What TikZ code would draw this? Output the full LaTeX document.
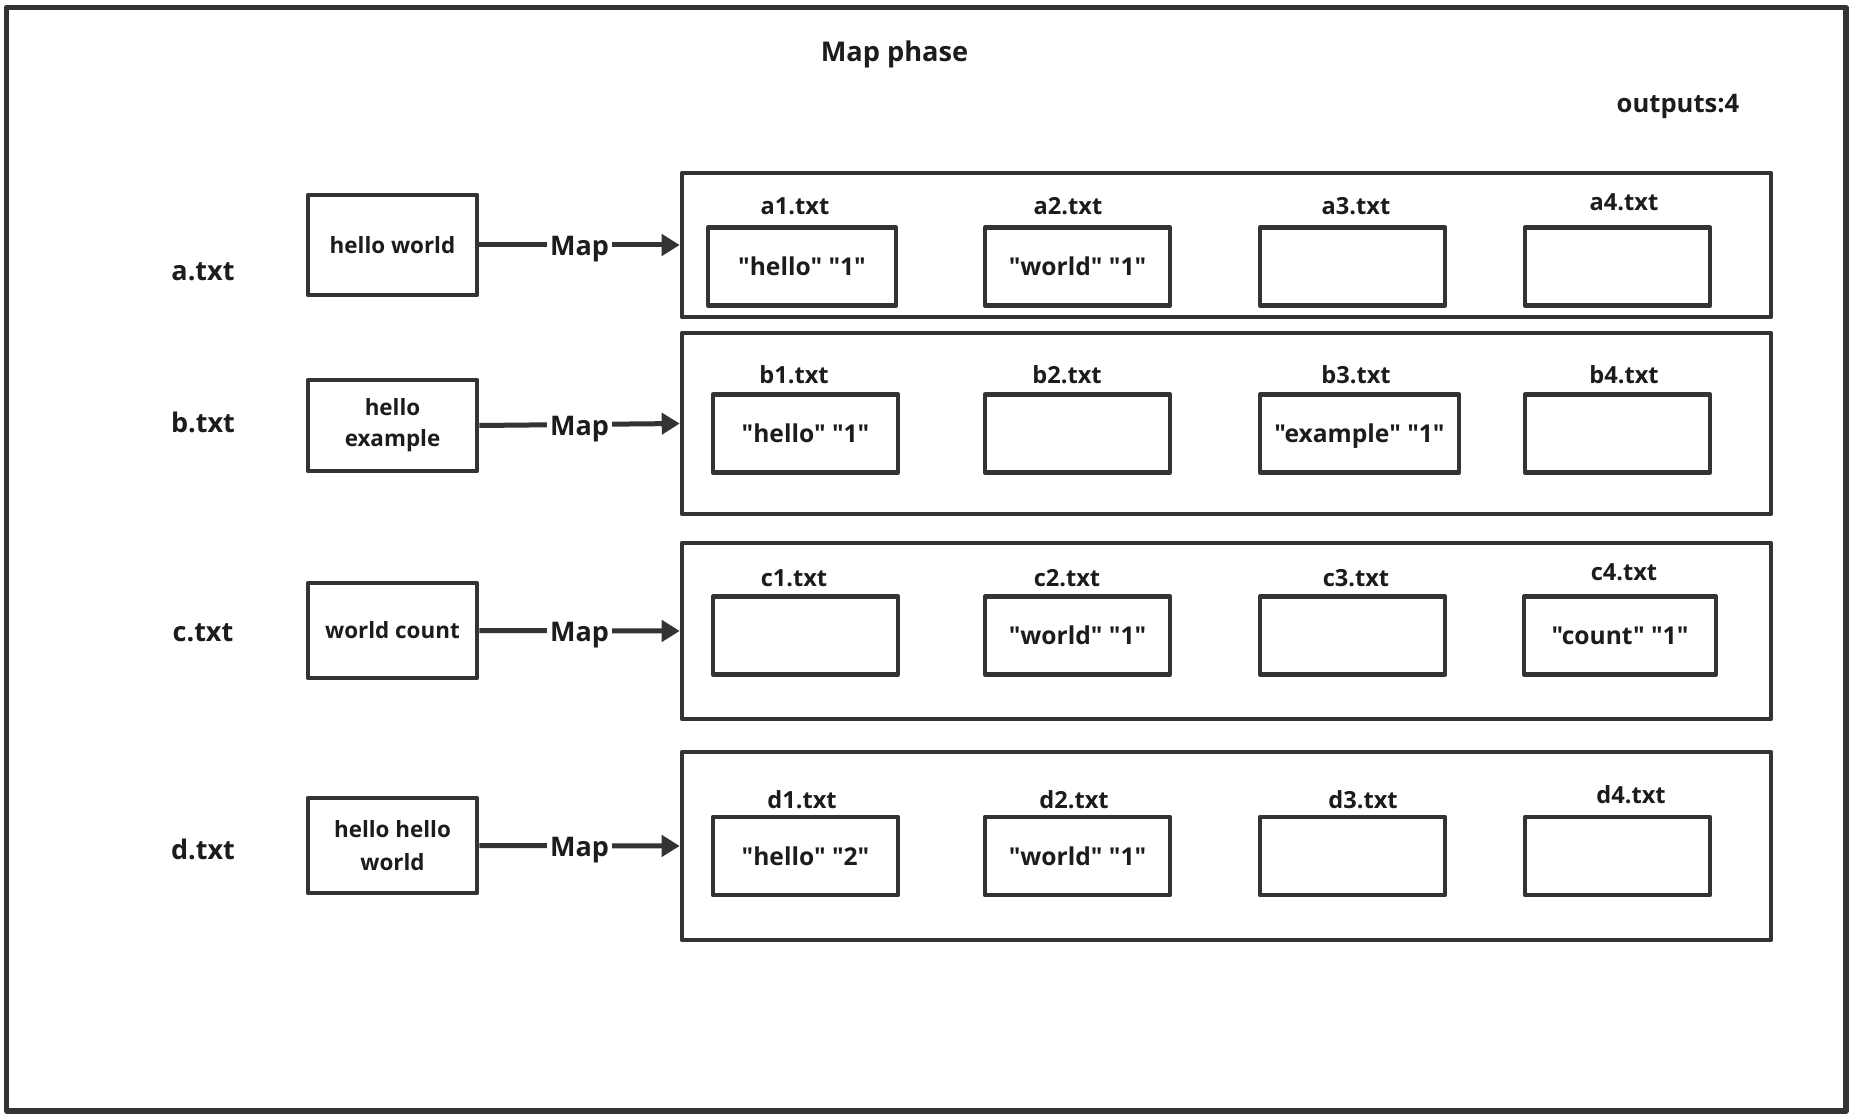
\documentclass[tikz,border=0pt]{standalone}
\usepackage{fontspec}
\setmainfont{Open Sans}
\newfontfamily\osans{Open Sans}
\usetikzlibrary{arrows.meta}
\definecolor{linec}{HTML}{333333}
\definecolor{txtc}{HTML}{1C1C1C}
\tikzset{
  frm/.style={draw=linec, line width=2.3pt, line join=round},
  inbox/.style={frm, minimum width=84.5pt, align=center, inner sep=0pt,
     font=\osans\bfseries\fontsize{11.2pt}{16pt}\selectfont, text=txtc},
  cont/.style={frm, minimum width=544.5pt, inner sep=0pt},
  outbox/.style={frm, minimum width=92.5pt, minimum height=39pt, inner sep=0pt,
     font=\osans\bfseries\fontsize{12.3pt}{15pt}\selectfont, text=txtc, text height=9pt, text depth=0pt},
  flabel/.style={anchor=base, inner sep=0pt, font=\osans\bfseries\fontsize{11.8pt}{13pt}\selectfont, text=txtc},
  rlabel/.style={anchor=base, inner sep=0pt, font=\osans\bfseries\fontsize{13.5pt}{16pt}\selectfont, text=txtc},
  maparrow/.style={draw=linec, line width=2.5pt, -{Triangle[length=9pt,width=10.5pt]}},
  maplbl/.style={anchor=base, yshift=-5.5pt, fill=white, inner sep=1.5pt,
     font=\osans\bfseries\fontsize{13.5pt}{16pt}\selectfont, text=txtc},
}
\begin{document}
\begin{tikzpicture}[x=0.5pt, y=-0.5pt]
\useasboundingbox (0,0) rectangle (1853,1117);
% outer frame
\draw[draw=linec, line width=2.6pt, line join=round] (6.5,7.5) rectangle (1846,1111);
% titles
\node[rlabel, font=\osans\bfseries\fontsize{13.6pt}{16pt}\selectfont] (title) at (894.5,62) {Map phase};
\node[rlabel, font=\osans\bfseries\fontsize{12.8pt}{16pt}\selectfont] (outs) at (1678,113) {outputs:4};
% row labels
\node[rlabel] (la) at (203,281) {a.txt};
\node[rlabel] (lb) at (203,433) {b.txt};
\node[rlabel] (lc) at (203,641) {c.txt};
\node[rlabel] (ld) at (203,859) {d.txt};
% input boxes
\node[inbox, minimum height=50pt] (ina) at (392.5,245) {hello world};
\node[inbox, minimum height=45.5pt, font=\osans\bfseries\fontsize{11.2pt}{15.5pt}\selectfont] (inb) at (392.5,425.5) {hello\\example};
\node[inbox, minimum height=47.5pt] (inc) at (392.5,630.5) {world count};
\node[inbox, minimum height=47.5pt, font=\osans\bfseries\fontsize{11.2pt}{16.5pt}\selectfont] (ind) at (392.5,845.5) {hello hello\\world};
% containers
\node[cont, minimum height=72pt] (ca) at (1226.5,245) {};
\node[cont, minimum height=90.5pt] (cb) at (1226.5,423.5) {};
\node[cont, minimum height=88pt] (cc) at (1226.5,631) {};
\node[cont, minimum height=94pt] (cd) at (1226.5,846) {};
% arrows
\draw[maparrow] (ina.east) -- node[maplbl] {Map} (ca.west);
\draw[maparrow] (inb.east) -- node[maplbl] {Map} (cb.west);
\draw[maparrow] (inc.east) -- node[maplbl] {Map} (cc.west);
\draw[maparrow] (ind.east) -- node[maplbl] {Map} (cd.west);
% row a
\node[outbox, minimum width=94pt] (a1) at (802,266.5) {"hello" "1"};
\node[outbox] (a2) at (1077.5,266.5) {"world" "1"};
\node[outbox] (a3) at (1352.5,266.5) {};
\node[outbox] (a4) at (1617.5,266.5) {};
\node[flabel] (a1l) at (795,215) {a1.txt};
\node[flabel] (a2l) at (1068,215) {a2.txt};
\node[flabel] (a3l) at (1356,215) {a3.txt};
\node[flabel] (a4l) at (1624,211) {a4.txt};
% row b
\node[outbox] (b1) at (805.5,433.5) {"hello" "1"};
\node[outbox] (b2) at (1077.5,433.5) {};
\node[outbox, minimum width=99.5pt] (b3) at (1359.5,433.5) {"example" "1"};
\node[outbox] (b4) at (1617.5,433.5) {};
\node[flabel] (b1l) at (794,384) {b1.txt};
\node[flabel] (b2l) at (1067,384) {b2.txt};
\node[flabel] (b3l) at (1356,384) {b3.txt};
\node[flabel] (b4l) at (1624,384) {b4.txt};
% row c
\node[outbox] (c1) at (805.5,635.5) {};
\node[outbox] (c2) at (1077.5,635.5) {"world" "1"};
\node[outbox] (c3) at (1352.5,635.5) {};
\node[outbox, minimum width=96pt] (c4) at (1620,635.5) {"count" "1"};
\node[flabel] (c1l) at (794,586) {c1.txt};
\node[flabel] (c2l) at (1067,586) {c2.txt};
\node[flabel] (c3l) at (1356,586) {c3.txt};
\node[flabel] (c4l) at (1624,581) {c4.txt};
% row d
\node[outbox] (d1) at (805.5,856) {"hello" "2"};
\node[outbox] (d2) at (1077.5,856) {"world" "1"};
\node[outbox] (d3) at (1352.5,856) {};
\node[outbox] (d4) at (1617.5,856) {};
\node[flabel] (d1l) at (802,808) {d1.txt};
\node[flabel] (d2l) at (1074,808) {d2.txt};
\node[flabel] (d3l) at (1363,808) {d3.txt};
\node[flabel] (d4l) at (1631,803) {d4.txt};
\end{tikzpicture}
\end{document}
